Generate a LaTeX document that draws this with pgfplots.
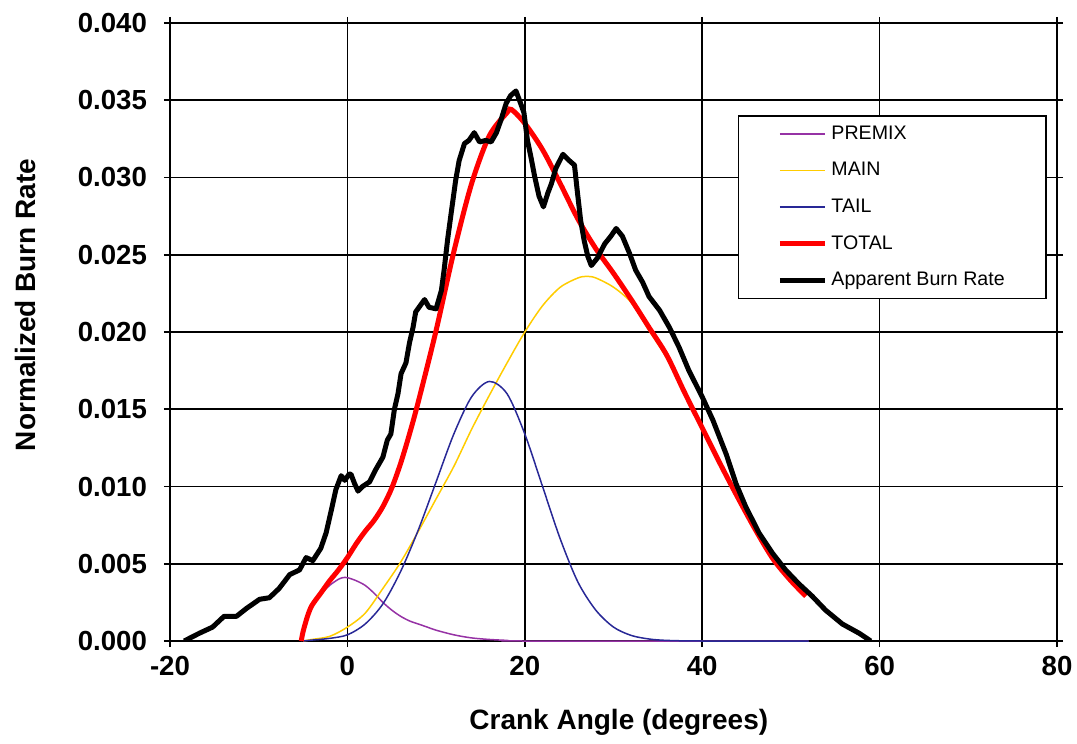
\documentclass[border=0pt]{standalone}
\usepackage{pgfplots}
\pgfplotsset{compat=1.18}
\usepackage{fontspec}
\setmainfont{Liberation Sans}
\usetikzlibrary{calc}
\definecolor{premixc}{RGB}{150,50,165}
\definecolor{mainc}{RGB}{255,204,0}
\definecolor{tailc}{RGB}{40,40,150}
\begin{document}
\begin{tikzpicture}
\begin{axis}[
  scale only axis, width=443.5pt, height=309pt,
  xmin=-20, xmax=80, ymin=0, ymax=0.04,
  xtick={-20,0,20,40,60,80},
  ytick={0,0.005,0.01,0.015,0.02,0.025,0.03,0.035,0.04},
  grid=major, major grid style={black, line width=0.8pt},
  axis line style={black, line width=0.8pt},
  tick style={black, line width=0.8pt}, tick align=outside, major tick length=3pt,
  tick label style={font=\fontsize{13.8}{16}\selectfont\bfseries},
  /pgf/number format/assume math mode=true,
  scaled y ticks=false,
  yticklabel style={/pgf/number format/.cd, fixed, fixed zerofill, precision=3, /tikz/.cd, xshift=-5pt},
  xticklabel style={yshift=-1pt},
  legend style={at={(rel axis cs:0.640,0.851)}, anchor=north west, draw=black, line width=0.8pt,
    fill=white, font=\fontsize{9.8}{11}\selectfont, inner xsep=19.5pt, inner ysep=4pt,
    row sep=8pt, column sep=1pt, nodes={inner sep=1pt}},
  legend cell align=left,
  legend image code/.code={\draw[#1] (0pt,0pt) -- (22.5pt,0pt);},
  clip=true,
]
\coordinate (sw) at (rel axis cs:0,0);
\coordinate (ne) at (rel axis cs:1,1);
\addplot[premixc, line width=0.75pt, smooth, tension=0.5] coordinates {
(-5.2,0) (-5,0.0005) (-4.5,0.0015) (-4,0.0022) (-3,0.0030) (-2,0.0036) (-1,0.0040) (-0.5,0.0041)
(0,0.0041) (1,0.0039) (2,0.0036) (3,0.0031) (4,0.0025) (5,0.0020) (6,0.0016) (7,0.0013)
(8,0.0011) (9,0.0009) (10,0.0007) (12,0.0004) (14,0.0002) (16,0.0001) (18,0.00004) (20,0) (52,0)};
\addlegendentry{PREMIX}
\addplot[mainc, line width=0.75pt, smooth] coordinates {
(-5,0) (-4,0.0001) (-2,0.0003) (0,0.0009) (2,0.0018) (4,0.0034) (6,0.0051) (8,0.0071)
(10,0.0092) (12,0.0113) (14,0.0137) (16,0.0159) (18,0.0180) (20,0.0200) (22,0.0217)
(24,0.0229) (26,0.0235) (27,0.0236) (28,0.0235) (30,0.0229) (32,0.0219) (34,0.0201)
(36,0.0183) (38,0.0160) (40,0.0137) (42,0.0114) (44,0.0093) (46,0.0072) (48,0.0053)
(50,0.0039) (51.7,0.0029)};
\addlegendentry{MAIN}
\addplot[tailc, line width=0.75pt, smooth] coordinates {
(-5,0) (-4,0.00006) (-2,0.00017) (0,0.0004) (2,0.0011) (4,0.0024) (6,0.0045) (8,0.0072)
(10,0.0103) (12,0.0134) (14,0.0158) (16,0.0168) (18,0.0160) (20,0.0134) (22,0.0100)
(24,0.0066) (26,0.0038) (28,0.0020) (30,0.0009) (32,0.00036) (34,0.00013) (36,0.00004)
(40,0) (52,0)};
\addlegendentry{TAIL}
\addplot[red, line width=2.5pt, smooth, tension=0.5] coordinates {
(-5.2,0) (-5,0.0006) (-4.5,0.0016) (-4,0.0023) (-3,0.0031) (-2,0.0039) (-1,0.0046)
(0,0.0054) (1,0.0063) (2,0.0071) (3,0.0078) (4,0.0087) (5,0.0099) (6,0.0115) (7,0.0134)
(8,0.0155) (10,0.0201)
(12,0.0252) (14,0.0296) (16,0.0327) (18,0.0342) (18.5,0.0344) (20,0.0335) (22,0.0318)
(24,0.0296) (26,0.0273) (28,0.0254) (30,0.0238) (32,0.0221) (34,0.0203) (36,0.0185)
(38,0.0161) (40,0.0138) (42,0.0115) (44,0.0093) (46,0.0072) (48,0.0053) (50,0.0039)
(51.7,0.0029)};
\addlegendentry{TOTAL}
\addplot[black, line width=2.5pt, line join=round] coordinates {
(-18.4,0) (-16.7,0.0005) (-15.2,0.0009) (-13.9,0.0016) (-12.5,0.0016) (-11.4,0.0021)
(-9.9,0.0027) (-8.8,0.0028) (-7.7,0.0034) (-6.5,0.0043) (-5.4,0.0046) (-4.65,0.0054)
(-3.9,0.0052) (-3.0,0.0060) (-2.4,0.0070) (-1.8,0.0085) (-1.3,0.0098) (-0.7,0.0107)
(-0.3,0.0104) (0.2,0.0108) (0.4,0.0108) (0.8,0.0102) (1.2,0.0097) (1.7,0.0100)
(2.5,0.0103) (3.2,0.0111) (4.0,0.0119) (4.5,0.0130) (4.9,0.0134) (5.3,0.0150)
(5.7,0.0160) (6.05,0.0173) (6.6,0.0180) (7.0,0.0193) (7.4,0.0203) (7.7,0.0213)
(8.7,0.0221) (9.2,0.0216) (10.0,0.0215) (10.6,0.0227) (10.9,0.0240) (11.3,0.0260)
(11.7,0.0277) (12.2,0.0298) (12.6,0.0311) (13.2,0.0322) (13.7,0.0324) (14.3,0.0329)
(14.9,0.0323) (15.6,0.0324) (16.2,0.0323) (16.8,0.0329) (17.3,0.0337) (17.9,0.0348)
(18.4,0.0353) (19.0,0.0356) (19.4,0.0350) (19.9,0.0342) (20.3,0.0324) (20.7,0.0313)
(21.1,0.0301) (21.6,0.0288) (22.1,0.0281) (22.6,0.0290) (23.0,0.0296) (23.5,0.0306)
(24.3,0.0315) (25.0,0.0311) (25.6,0.0308) (25.9,0.0292) (26.3,0.0272) (26.7,0.0259)
(27.1,0.0249) (27.5,0.0243) (28.2,0.0248) (29.0,0.0257) (29.7,0.0262) (30.3,0.0267)
(31.0,0.0262) (31.8,0.0251) (32.5,0.0240) (33.3,0.0232) (34.0,0.0223) (35.2,0.0214)
(36.3,0.0203) (37.4,0.0190) (38.5,0.0175) (40.0,0.0158) (41.2,0.0143) (42.7,0.0121)
(43.8,0.0102) (44.9,0.0087) (46.4,0.0070) (47.9,0.0057) (49.4,0.0046) (50.9,0.0037)
(52.4,0.0029) (53.9,0.0020) (55.8,0.0011) (57.7,0.0005) (59.0,0)};
\addlegendentry{Apparent Burn Rate}
\end{axis}
\node[font=\fontsize{14}{16}\selectfont\bfseries] at ($(sw)!0.506!(sw-|ne) + (0,-40.5pt)$) {Crank Angle (degrees)};
\node[font=\fontsize{14}{16}\selectfont\bfseries, rotate=90] at ($(sw)!0.544!(sw|-ne) + (-72.5pt,0)$) {Normalized Burn Rate};
\pgfresetboundingbox
\path ($(sw)+(-85pt,-51pt)$) rectangle ($(ne)+(10pt,11.5pt)$);
\end{tikzpicture}
\end{document}
